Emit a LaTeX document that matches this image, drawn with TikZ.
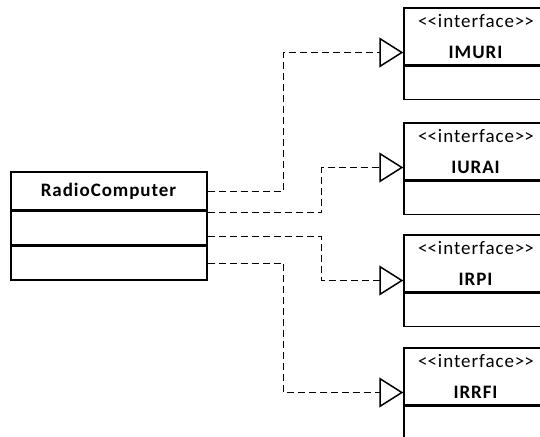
\documentclass[tikz,border=0pt]{standalone}
\usepackage{fontspec}
\setmainfont{Carlito}[LetterSpace=5]
\usetikzlibrary{positioning,arrows.meta}
\newcommand{\stereo}[1]{<\kern0pt<#1>\kern0pt>}
\begin{document}
\begin{tikzpicture}[x=1pt, y=-1pt, font=\fontsize{19}{21}\selectfont]
            % Styles
            \tikzstyle{classbox} = [rectangle, draw=black, line width=1.5pt, inner sep=0pt, minimum width=196pt, fill=white]
            \tikzstyle{ifacebox} = [rectangle, draw=black, line width=1.5pt, inner sep=0pt, minimum width=144pt, fill=white, align=center]
            \tikzstyle{realize} = [dashed, dash pattern=on 7pt off 4pt, line width=1pt, -{Triangle[open, length=24pt, width=30pt, line width=1.5pt]}]

            % Page frame
            \useasboundingbox (0,0) rectangle (540,436);
            \clip (0,0) rectangle (540,436);

            % RadioComputer class - explicit coordinates
            \node[classbox, minimum height=38pt] (rc) at (109, 191) {\textbf{RadioComputer}};
            \node[classbox, minimum height=33pt, below=0pt of rc] (rcattr) {};
            \node[classbox, minimum height=34pt, below=0pt of rcattr] (rcops) {};

            % Interface classes
            \node[ifacebox, minimum height=57pt] (imuri) at (476, 36.5) {\stereo{interface}\\[10pt]\textbf{IMURI}};
            \node[ifacebox, minimum height=33pt, below=0pt of imuri] (imuribody) {};
            \node[ifacebox, minimum height=57pt] (iurai) at (476, 151.5) {\stereo{interface}\\[10pt]\textbf{IURAI}};
            \node[ifacebox, minimum height=33pt, below=0pt of iurai] (iuraibody) {};
            \node[ifacebox, minimum height=57pt] (irpi) at (476, 263.5) {\stereo{interface}\\[10pt]\textbf{IRPI}};
            \node[ifacebox, minimum height=33pt, below=0pt of irpi] (irpibody) {};
            \node[ifacebox, minimum height=57pt] (irrfi) at (476, 376.5) {\stereo{interface}\\[10pt]\textbf{IRRFI}};
            \node[ifacebox, minimum height=33pt, below=0pt of irrfi] (irrfibody) {};

            % Realizations
            \draw[realize] (rc.east) -- ++(76,0) |- ([yshift=-16pt]imuri.west);
            \draw[realize] ([yshift=-2pt]rcattr.north east) -- ++(114,0) |- ([yshift=-16pt]iurai.west);
            \draw[realize] ([yshift=-26pt]rcattr.north east) -- ++(114,0) |- ([yshift=-17pt]irpi.west);
            \draw[realize] (rcops.east) -- ++(76,0) |- ([yshift=-16pt]irrfi.west);
        \end{tikzpicture}
\end{document}
